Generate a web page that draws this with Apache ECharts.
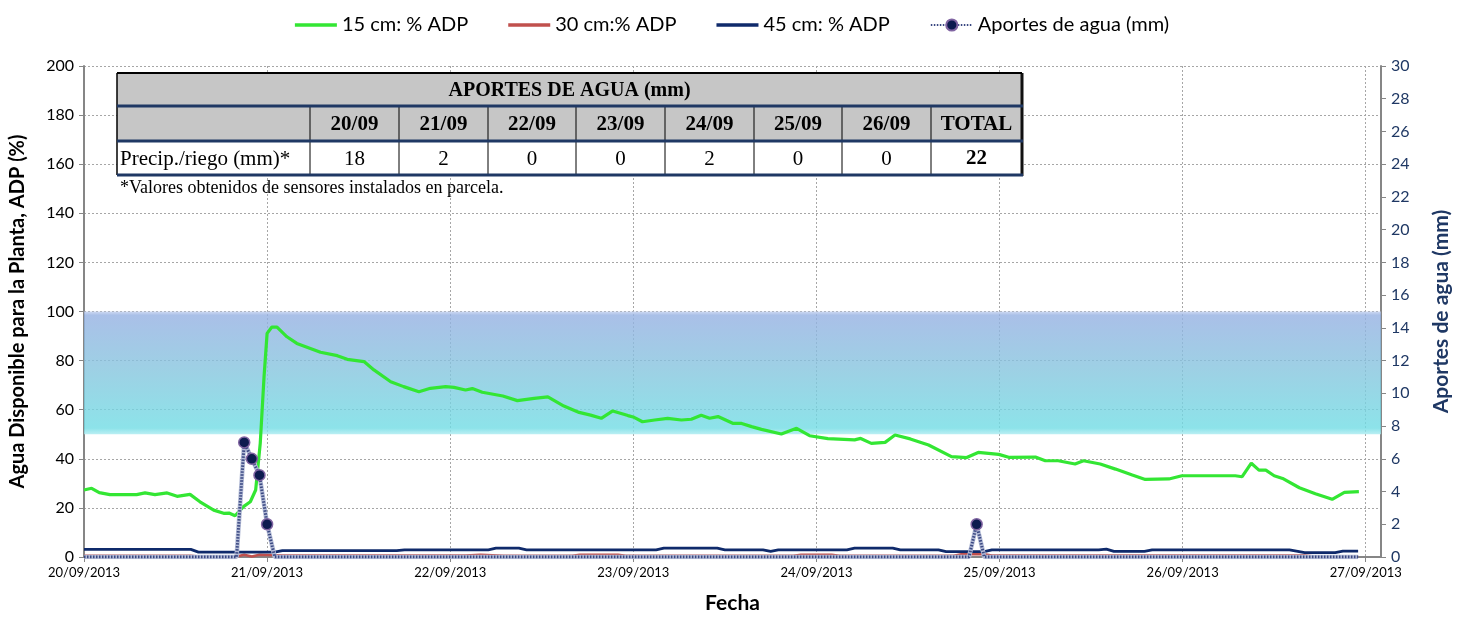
<!DOCTYPE html>
<html><head><meta charset="utf-8">
<script src="https://cdn.jsdelivr.net/npm/echarts@6/dist/echarts.min.js"></script>
<style>html,body{margin:0;padding:0;background:#fff}#c{width:1464px;height:617px}</style>
</head><body><div id="c"></div>
<script>
// ---- DATA ----
const dateLabels = ['20/09/2013','21/09/2013','22/09/2013','23/09/2013','24/09/2013','25/09/2013','26/09/2013','27/09/2013'];
// hours since 20/09/2013 00:00
const hours15 = [0,1,2,3.4,6.9,8,9.3,10.9,12.2,13.9,15.2,17,18.3,19,19.8,20.9,21.8,22.5,23.1,23.6,24,24.6,25.3,26.6,27.9,31,33.2,34.5,36.7,38,40.2,41.9,43.9,45.4,47.4,48.5,50,50.9,52.2,54.9,56.8,59,60.8,62.9,64.9,66.4,67.8,69.3,71.3,72.1,73.2,74.8,76.5,78.3,79.6,80.9,82,83.1,85.1,86.2,87.5,88.8,91.4,93.4,95.1,97.5,101,101.8,103.2,105,106.3,108.3,110.7,113.7,115.7,117.2,119.9,121.2,124.7,126,127.7,129.9,131,133.2,135.2,137.4,139.1,142.2,143.9,150.9,151.8,153,154,154.9,156,157.1,159.3,161.4,163.6,165.2,167.1];
const adp15 = [27.3,28.0,26.2,25.4,25.4,26.1,25.4,26.1,24.7,25.5,22.5,19.1,17.8,17.9,16.8,20.5,22.5,27.3,46.3,73.5,91.1,93.6,93.6,89.7,87.0,83.4,82.0,80.5,79.6,76.2,71.4,69.4,67.3,68.7,69.4,69.1,68.0,68.6,67.1,65.6,63.7,64.6,65.2,61.5,58.9,57.8,56.5,59.5,57.6,56.9,55.1,55.8,56.5,55.8,56.1,57.7,56.5,57.2,54.4,54.4,53.1,52.0,50.1,52.4,49.4,48.2,47.7,48.3,46.3,46.7,49.7,48.1,45.6,40.9,40.5,42.6,41.8,40.6,40.7,39.2,39.2,37.9,39.2,37.9,35.8,33.4,31.6,31.8,33.1,33.1,32.7,38.2,35.4,35.4,33.1,32.0,28.2,25.8,23.5,26.3,26.6];
const hours30 = [0,14,15,20,21,22,23,26,50,52,55,64,65,70,71,93,94,98,99,114,115,118,119,160,161,167];
const adp30 = [0.5,0.5,0.2,0.2,0.9,0.2,0.9,0.6,0.6,0.9,0.5,0.5,0.9,0.9,0.5,0.5,0.9,0.9,0.5,0.5,1.1,1.1,0.6,0.6,0.3,0.3];
const hours45 = [0,14,15,25,26,41,42,53,54,57,58,75,76,83,84,89,90,91,100,101,106,107,112,113,118,119,133,134,135,139,140,158,160,164,165,167];
const adp45 = [3.1,3.1,2.0,2.0,2.6,2.6,2.9,2.9,3.6,3.6,2.9,2.9,3.6,3.6,2.9,2.9,2.3,2.9,2.9,3.6,3.6,2.9,2.9,2.2,2.2,2.9,2.9,3.2,2.3,2.3,2.9,2.9,1.8,1.8,2.4,2.4];
const hoursAp = [0,20,21,22,23,24,25,116,117,118,167];
const aportes = [0,0,7,6,5,2,0,0,2,0,0];
// table
const tableDays = ['20/09','21/09','22/09','23/09','24/09','25/09','26/09'];
const tableVals = [18,2,0,0,2,0,0];
const tableTotal = 22;
const bandRange = [50,100];

const pair = (h,v) => h.map((x,i)=>[x,v[i]]);
const FONT = 'Lato';
const SERIF = '"Liberation Serif"';

// ---- TABLE GRAPHIC ----
const colX = [117,310,399,488,576,665,754,842,931,1022];
const rowY = [73,106,141,175];
const g = [];
g.push({type:'rect',shape:{x:colX[0],y:rowY[0],width:colX[9]-colX[0],height:rowY[2]-rowY[0]},style:{fill:'#c6c6c6'}});
g.push({type:'rect',shape:{x:colX[0],y:rowY[2],width:colX[9]-colX[0],height:rowY[3]-rowY[2]},style:{fill:'#ffffff'}});
for (let i=1;i<colX.length-1;i++) g.push({type:'line',shape:{x1:colX[i],y1:rowY[1],x2:colX[i],y2:rowY[3]},style:{stroke:'#000',lineWidth:1}});
g.push({type:'line',shape:{x1:colX[0],y1:rowY[0],x2:colX[0],y2:rowY[3]},style:{stroke:'#000',lineWidth:1.5}});
g.push({type:'line',shape:{x1:colX[9],y1:rowY[0],x2:colX[9],y2:rowY[3]+1},style:{stroke:'#111',lineWidth:3}});
g.push({type:'line',shape:{x1:colX[0],y1:rowY[0],x2:colX[9],y2:rowY[0]},style:{stroke:'#000',lineWidth:2}});
for (let r=1;r<4;r++) g.push({type:'line',shape:{x1:colX[0],y1:rowY[r],x2:colX[9]+1,y2:rowY[r]},style:{stroke:'#1f3864',lineWidth:3}});
function txt(x,y,t,font,align){return {type:'text',x:x,y:y,style:{text:String(t),font:font,fill:'#000',textAlign:align||'center',textVerticalAlign:'middle',align:align||'center',verticalAlign:'middle'}};}
g.push(txt((colX[0]+colX[9])/2,(rowY[0]+rowY[1])/2+1,'APORTES DE AGUA (mm)','bold 20px '+SERIF));
const heads = tableDays.concat(['TOTAL']);
heads.forEach((h,i)=>g.push(txt((colX[i+1]+colX[i+2])/2,(rowY[1]+rowY[2])/2+1,h,'bold 21px '+SERIF)));
g.push(txt(colX[0]+3,(rowY[2]+rowY[3])/2+1,'Precip./riego (mm)*','21px '+SERIF,'left'));
tableVals.forEach((v,i)=>g.push(txt((colX[i+1]+colX[i+2])/2,(rowY[2]+rowY[3])/2+1,v,'21px '+SERIF)));
g.push(txt((colX[8]+colX[9])/2,(rowY[2]+rowY[3])/2+1,tableTotal,'bold 21px '+SERIF));
g.push(txt(120,188,'*Valores obtenidos de sensores instalados en parcela.','18px '+SERIF,'left'));
g.forEach(e=>{e.z=100;});

const barIcon = 'path://M0,0H42V3.5H0Z';
const chart = echarts.init(document.getElementById('c'));
const gridLine = {show:true,lineStyle:{color:'#a6a6a6',type:[2,2],width:1}};
chart.setOption({
  animation:false,
  backgroundColor:'#fff',
  legend:{top:10,left:'center',itemWidth:42,itemHeight:14,itemGap:40,
    textStyle:{fontFamily:FONT,fontSize:20,color:'#000'},
    data:[{name:'15 cm: % ADP',icon:barIcon},{name:'30 cm:% ADP',icon:barIcon},
          {name:'45 cm: % ADP',icon:barIcon},{name:'Aportes de agua (mm)'}]},
  grid:{left:84,right:83,top:66,bottom:60,containLabel:false,outerBoundsMode:'none'},
  xAxis:{type:'value',min:0,max:170,interval:24,
    name:'Fecha',nameLocation:'middle',nameGap:36,
    nameTextStyle:{fontFamily:FONT,fontWeight:'bold',fontSize:21,color:'#000'},
    axisLine:{show:true,onZero:false,lineStyle:{color:'#868686',width:2}},
    axisTick:{show:true,length:5,lineStyle:{color:'#868686'}},
    axisLabel:{fontFamily:FONT,fontSize:13,color:'#000',margin:9,showMaxLabel:false,
      formatter:v=> (v%24===0 && dateLabels[v/24]) ? dateLabels[v/24] : ''},
    splitLine:gridLine},
  yAxis:[
    {type:'value',min:0,max:200,interval:20,position:'left',
     name:'Agua Disponible para la Planta, ADP (%)',nameLocation:'middle',nameGap:56,
     nameTextStyle:{fontFamily:FONT,fontWeight:'bold',fontSize:20,color:'#000'},
     axisLine:{show:true,lineStyle:{color:'#868686',width:2}},
     axisTick:{show:true,length:5,lineStyle:{color:'#868686'}},
     axisLabel:{fontFamily:FONT,fontSize:16,color:'#000',margin:10},
     splitLine:gridLine},
    {type:'value',min:0,max:30,interval:2,position:'right',
     name:'Aportes de agua (mm)',nameLocation:'middle',nameGap:50,
     nameTextStyle:{fontFamily:FONT,fontWeight:'bold',fontSize:21,color:'#1f3864'},
     axisLine:{show:true,lineStyle:{color:'#868686',width:2}},
     axisTick:{show:true,length:5,lineStyle:{color:'#868686'}},
     axisLabel:{fontFamily:FONT,fontSize:16,color:'#1f3864',margin:10},
     splitLine:{show:false}}
  ],
  graphic:{elements:g},
  series:[
    {name:'band',type:'line',data:[],silent:true,
     markArea:{silent:true,itemStyle:{color:{type:'linear',x:0,y:0,x2:0,y2:1,colorStops:[
        {offset:0,color:'rgba(190,205,238,0.75)'},{offset:0.03,color:'rgba(148,176,226,0.8)'},
        {offset:0.5,color:'rgba(132,198,222,0.8)'},{offset:0.95,color:'rgba(112,220,228,0.8)'},
        {offset:1,color:'rgba(170,235,240,0.8)'}]}},
       data:[[{coord:[0,bandRange[1]]},{coord:[170,bandRange[0]]}]]}},
    {name:'15 cm: % ADP',type:'line',data:pair(hours15,adp15),symbol:'none',
     lineStyle:{color:'#33e633',width:3.2},itemStyle:{color:'#33e633'},z:3},
    {name:'30 cm:% ADP',type:'line',data:pair(hours30,adp30),symbol:'none',
     lineStyle:{color:'#c0504d',width:2.5},itemStyle:{color:'#c0504d'},z:3},
    {name:'45 cm: % ADP',type:'line',data:pair(hours45,adp45),symbol:'none',
     lineStyle:{color:'#0f2a6b',width:2.8},itemStyle:{color:'#0f2a6b'},z:3},
    {name:'aportesBase',type:'line',yAxisIndex:1,data:pair(hoursAp,aportes),symbol:'none',
     lineStyle:{color:'#b3bbd6',width:4.5},z:4},
    {name:'Aportes de agua (mm)',type:'line',yAxisIndex:1,data:pair(hoursAp,aportes),
     symbol:'circle',symbolSize:v=> v[1]>0 ? 11 : 0,
     lineStyle:{color:'#3a4882',width:3,type:[1.5,1.5]},
     itemStyle:{color:'#0d1b4f',borderColor:'#8064a2',borderWidth:1.5},z:5}
  ]
});
</script></body></html>
